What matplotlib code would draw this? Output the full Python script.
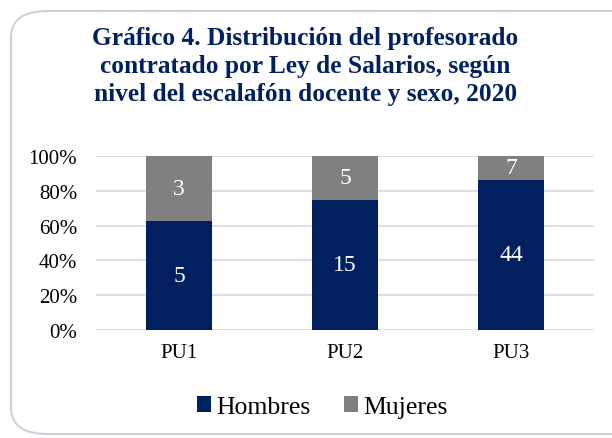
import numpy as np
import matplotlib.pyplot as plt
from matplotlib.patches import FancyBboxPatch

categories = ["PU1", "PU2", "PU3"]
hombres = [5, 15, 44]
mujeres = [3, 5, 7]

navy = "#002060"
grey = "#808080"

plt.rcParams['font.family'] = ['Liberation Serif', 'DejaVu Serif']

fig = plt.figure(figsize=(6.12, 4.39), dpi=100)

# rounded frame around the chart
frame = FancyBboxPatch((11/612, 4/439), 640/612, 423/439,
                       boxstyle="round,pad=0,rounding_size=0.06",
                       transform=fig.transFigure, fill=False,
                       edgecolor="#cad1de", linewidth=1.5, clip_on=False)
fig.patches.append(frame)

fig.text(0.499, 0.938, "Gráfico 4. Distribución del profesorado\ncontratado por Ley de Salarios, según\nnivel del escalafón docente y sexo, 2020",
         ha='center', va='top', fontsize=18.3, fontweight='bold', color=navy,
         linespacing=1.26)

ax = fig.add_axes([96/612, 1 - 331/439, 498/612, 174/439])

h = np.array(hombres, dtype=float)
m = np.array(mujeres, dtype=float)
tot = h + m
hp = h / tot
mp = m / tot
x = np.arange(len(categories))
w = 0.395

ax.bar(x, hp, w, color=navy, label="Hombres", zorder=3)
ax.bar(x, mp, w, bottom=hp, color=grey, label="Mujeres", zorder=3)

for i in range(len(categories)):
    ax.text(x[i], hp[i] / 2, str(hombres[i]), ha='center', va='center',
            color='white', fontsize=17, zorder=4)
    ax.text(x[i], hp[i] + mp[i] / 2, str(mujeres[i]), ha='center', va='center',
            color='white', fontsize=17, zorder=4)

ax.set_xlim(-0.5, 2.5)
ax.set_ylim(0, 1)
ax.set_yticks(np.arange(0, 1.01, 0.2))
ax.set_yticklabels(["%d%%" % v for v in range(0, 101, 20)], fontsize=15)
ax.set_xticks(x)
ax.set_xticklabels(categories, fontsize=15)
ax.yaxis.grid(True, color="#d9d9d9", linewidth=1.2, zorder=0)
for s in ax.spines.values():
    s.set_visible(False)
ax.tick_params(length=0)
ax.tick_params(axis='y', pad=13.5)
ax.tick_params(axis='x', pad=9)

ax.legend(loc='center', bbox_to_anchor=(322/612, 1 - 408/439),
          bbox_transform=fig.transFigure, ncol=2, frameon=False,
          fontsize=18.5, handlelength=0.55, handleheight=0.55, handletextpad=0.2,
          columnspacing=1.3)

fig.savefig("out.png", dpi=100)
